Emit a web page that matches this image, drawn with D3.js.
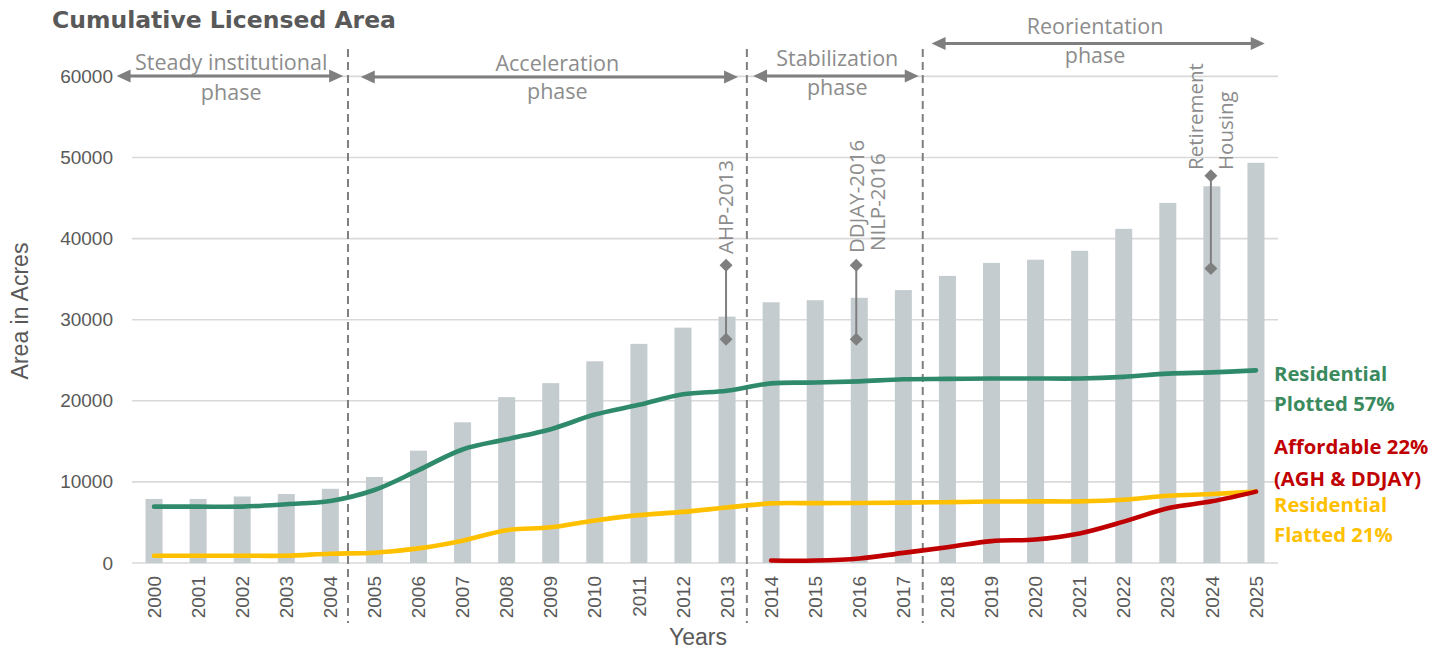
<!DOCTYPE html>
<html>
<head>
<meta charset="utf-8">
<script src="https://cdn.jsdelivr.net/npm/d3@7"></script>
<style>
  html, body { margin: 0; padding: 0; background: #ffffff; }
  svg { display: block; }
</style>
</head>
<body>
<svg id="chart" width="1436" height="651"></svg>
<script>
// ---------- DATA ----------
const years = [2000,2001,2002,2003,2004,2005,2006,2007,2008,2009,2010,2011,2012,
               2013,2014,2015,2016,2017,2018,2019,2020,2021,2022,2023,2024,2025];
const totalArea = [7900,7900,8200,8500,9150,10600,13850,17350,20450,22180,24870,27020,29020,
                   30380,32150,32400,32700,33650,35400,37000,37400,38500,41200,44400,46450,49350];
const residentialPlotted = [6950,6950,6950,7250,7650,9000,11450,14000,15250,16500,18300,19500,20800,
                            21250,22150,22250,22400,22650,22700,22750,22750,22750,22950,23350,23500,23750];
const residentialFlatted = [900,900,900,900,1150,1270,1800,2750,4050,4400,5250,5900,6300,
                            6850,7350,7380,7400,7450,7500,7580,7600,7600,7800,8300,8500,8800];
const affordableYears = [2014,2015,2016,2017,2018,2019,2020,2021,2022,2023,2024,2025];
const affordable = [300,300,550,1250,1950,2700,2900,3650,5100,6750,7600,8800];
const yTicks = [0,10000,20000,30000,40000,50000,60000];

const phaseNames = [["Steady institutional","phase"],["Acceleration","phase"],["Stabilization","phase"],["Reorientation","phase"]];
const phaseBoundaries = [2004.4, 2013.45, 2017.44];        // dashed dividers (fractional year)
const phaseArrowSpan = [[1999.15,2004.29],[2004.69,2013.25],[2013.59,2017.35],[2017.64,2025.2]];
const phaseLabelCenter = [2001.75, 2009.15, 2015.5, 2021.35];

const eventYears = [2013, 2016, 2024];
const eventRange = [[36700,27600],[36700,27600],[47750,36300]];
const eventLabels = [["AHP-2013"],["DDJAY-2016","NILP-2016"],["Retirement","Housing"]];

const legendLabels = [["Residential","Plotted 57%"],["Affordable 22%","(AGH & DDJAY)"],["Residential","Flatted 21%"]];
const seriesColors = ["#2F8A6C","#C00000","#FFC000"];

// ---------- LAYOUT ----------
const svg = d3.select("#chart");
const plotL = 132, plotR = 1278, plotT = 76.4, plotB = 563;
const gray = "#7F7F7F";

const x = d3.scaleBand().domain(years).range([plotL, plotR]).paddingInner(0.614).paddingOuter(0.307);
const bw = x.bandwidth();
const cx = d => x(d) + bw / 2;
const yearX = d3.scaleLinear().domain([2000, 2025]).range([cx(2000), cx(2025)]);
const y = d3.scaleLinear().domain([0, 60000]).range([plotB, plotT]);

// Title
svg.append("text")
  .attr("x", 52).attr("y", 28)
  .attr("font-family", "DejaVu Sans").attr("font-weight", "bold")
  .attr("font-size", 23.5).attr("fill", "#595959")
  .text("Cumulative Licensed Area");

// Gridlines
svg.append("g").selectAll("line").data(yTicks).join("line")
  .attr("x1", plotL).attr("x2", plotR)
  .attr("y1", d => y(d)).attr("y2", d => y(d))
  .attr("stroke", "#D9D9D9").attr("stroke-width", 1.6);

// Y axis
const yAxis = svg.append("g").attr("transform", `translate(${plotL},0)`)
  .call(d3.axisLeft(y).tickValues(yTicks).tickSize(0).tickPadding(19).tickFormat(d3.format("d")));
yAxis.select(".domain").remove();
yAxis.selectAll("text").attr("font-family", "Liberation Sans").attr("font-size", 19).attr("fill", "#595959");

// X axis
const xAxis = svg.append("g").attr("transform", `translate(0,${plotB})`)
  .call(d3.axisBottom(x).tickSize(0).tickPadding(0));
xAxis.select(".domain").remove();
xAxis.selectAll("text")
  .attr("font-family", "Liberation Sans").attr("font-size", 19).attr("fill", "#595959")
  .attr("text-anchor", "end")
  .attr("transform", "translate(0,13) rotate(-90)")
  .attr("x", 0).attr("y", 0).attr("dy", "0.35em");

// Axis titles
svg.append("text")
  .attr("transform", "translate(28,311) rotate(-90)")
  .attr("text-anchor", "middle")
  .attr("font-family", "Liberation Sans").attr("font-size", 23).attr("fill", "#595959")
  .text("Area in Acres");
svg.append("text")
  .attr("x", 698).attr("y", 645).attr("text-anchor", "middle")
  .attr("font-family", "Liberation Sans").attr("font-size", 23).attr("fill", "#595959")
  .text("Years");

// Bars
svg.append("g").selectAll("rect").data(years).join("rect")
  .attr("x", d => x(d)).attr("width", bw)
  .attr("y", (d, i) => y(totalArea[i]))
  .attr("height", (d, i) => y(0) - y(totalArea[i]))
  .attr("fill", "#C5CCCF");

// Phase dividers
svg.append("g").selectAll("line").data(phaseBoundaries).join("line")
  .attr("x1", d => yearX(d)).attr("x2", d => yearX(d))
  .attr("y1", 49).attr("y2", 623)
  .attr("stroke", gray).attr("stroke-width", 2).attr("stroke-dasharray", "8,5");

// Lines
const line = d3.line().x(d => cx(d[0])).y(d => y(d[1])).curve(d3.curveCatmullRom.alpha(0.5));
const seriesData = [
  years.map((yr, i) => [yr, residentialPlotted[i]]),
  affordableYears.map((yr, i) => [yr, affordable[i]]),
  years.map((yr, i) => [yr, residentialFlatted[i]])
];
const drawOrder = [2, 1, 0];
drawOrder.forEach(k => {
  svg.append("path").datum(seriesData[k])
    .attr("d", line).attr("fill", "none")
    .attr("stroke", seriesColors[k]).attr("stroke-width", 4.6)
    .attr("stroke-linecap", "round").attr("stroke-linejoin", "round");
});

// Phase arrows
const arrowY = [76, 77, 76, 43.5];
function arrow(g, x1, x2, yy) {
  const hl = 14, hw = 6.5;
  g.append("line").attr("x1", x1 + hl - 2).attr("x2", x2 - hl + 2).attr("y1", yy).attr("y2", yy)
    .attr("stroke", gray).attr("stroke-width", 3);
  g.append("path").attr("d", `M${x1},${yy} L${x1 + hl},${yy - hw} L${x1 + hl},${yy + hw} Z`).attr("fill", gray);
  g.append("path").attr("d", `M${x2},${yy} L${x2 - hl},${yy - hw} L${x2 - hl},${yy + hw} Z`).attr("fill", gray);
}
const phaseG = svg.append("g");
const labelBase = [[70, 100], [71, 99], [66, 95], [34, 63]];
phaseArrowSpan.forEach((s, i) => {
  arrow(phaseG, yearX(s[0]), yearX(s[1]), arrowY[i]);
  phaseNames[i].forEach((t, j) => {
    phaseG.append("text")
      .attr("x", yearX(phaseLabelCenter[i])).attr("y", labelBase[i][j])
      .attr("text-anchor", "middle")
      .attr("font-family", "Open Sans").attr("font-size", 21.5).attr("fill", "#8C8C8C")
      .text(t);
  });
});

// Event annotations
const eventXOff = [-1, -3, -1];
const eventTextOff = [[7], [8, 29], [-8, 22]];
const eventTextStart = [[254], [253, 251], [170, 170]];
const evG = svg.append("g");
eventYears.forEach((yr, i) => {
  const ex = cx(yr) + eventXOff[i];
  const [v1, v2] = eventRange[i];
  evG.append("line").attr("x1", ex).attr("x2", ex).attr("y1", y(v1)).attr("y2", y(v2))
    .attr("stroke", gray).attr("stroke-width", 2);
  [v1, v2].forEach(v => {
    const yy = y(v), r = 6.5;
    evG.append("path").attr("d", `M${ex},${yy - r} L${ex + r},${yy} L${ex},${yy + r} L${ex - r},${yy} Z`).attr("fill", gray);
  });
  eventLabels[i].forEach((t, j) => {
    evG.append("text")
      .attr("transform", `translate(${ex + eventTextOff[i][j]},${eventTextStart[i][j]}) rotate(-90)`)
      .attr("font-family", "Open Sans").attr("font-size", 20.5).attr("fill", "#8C8C8C")
      .text(t);
  });
});

// Right-side series labels
const legendBase = [[381, 411], [454, 486], [512, 542]];
const legG = svg.append("g");
legendLabels.forEach((lines, i) => {
  lines.forEach((t, j) => {
    legG.append("text")
      .attr("x", 1274).attr("y", legendBase[i][j])
      .attr("font-family", "Open Sans").attr("font-weight", "bold")
      .attr("font-size", 20.3).attr("fill", i === 0 ? "#3A8A5E" : seriesColors[i])
      .text(t);
  });
});
</script>
</body>
</html>
